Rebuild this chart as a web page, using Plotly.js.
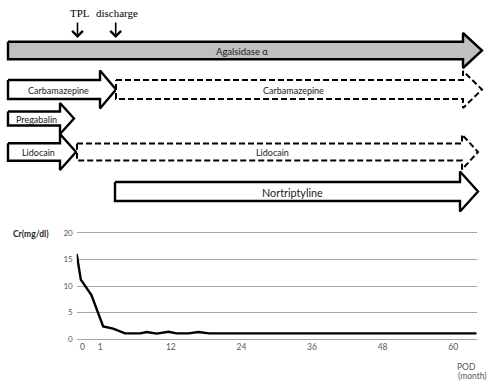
<!DOCTYPE html>
<html>
<head>
<meta charset="utf-8">
<script src="https://cdn.plot.ly/plotly-3.0.1.min.js"></script>
<style>html,body{margin:0;padding:0;background:#fff;}#chart{width:500px;height:389px;}</style>
</head>
<body>
<div id="chart"></div>
<script>
// ---- Treatment timeline (schematic positions along the timeline) ----
const drugNames   = ['Agalsidase α','Carbamazepine','Carbamazepine','Pregabalin','Lidocain','Lidocain','Nortriptyline'];
const drugStart   = [8, 8, 116, 8, 8, 77, 115];
const drugEnd     = [482, 116, 482, 74, 76, 478, 478];
const drugRow     = [0, 1, 1, 2, 3, 3, 4];
const drugDashed  = [false, false, true, false, false, true, false];
const eventNames  = ['TPL', 'discharge'];
const eventPos    = [77.5, 115.7];

// ---- Serum creatinine ----
const crX = [0, 0.7, 2.5, 4.5, 6.2, 8.2, 10.8, 11.9, 13.6, 15.6, 17, 19, 20.7, 22.5, 25, 28, 34, 40, 46, 52, 58, 64, 68];
const crY = [16, 11.2, 8.3, 2.4, 2.0, 1.1, 1.1, 1.35, 1.05, 1.4, 1.1, 1.1, 1.35, 1.1, 1.1, 1.1, 1.1, 1.1, 1.1, 1.1, 1.1, 1.1, 1.1];
const xTickVals = [1, 4, 16, 28, 40, 52, 64];
const xTickText = ['0', '1', '12', '24', '36', '48', '60'];
const yTickVals = [0, 5, 10, 15, 20];

// ---- styles ----
const rowCenter = [50.5, 89.5, 118.5, 152, 191.5];
const shaftHalf = [8.8, 9.5, 9.5, 7, 8.7, 8.6, 9.5];
const headHalf  = [17.5, 19, 18.5, 15.5, 18, 17.5, 20];
const headLen   = [19, 16, 19, 14, 16, 16, 18];
const fills     = ['#c0c0c0', '#ffffff', '#ffffff', '#ffffff', '#ffffff', '#ffffff', '#ffffff'];
const labelX    = [242, 58, 293.5, 36.5, 38.3, 272.5, 292];
const labelSize = [9.5, 9, 9, 9, 9, 9, 10.8];
const labelFont = 'Lato, "Open Sans", sans-serif';
const serifFont = '"Liberation Serif", "DejaVu Serif", serif';

const traces = [];
drugNames.forEach((name, i) => {
  const yc = rowCenter[drugRow[i]];
  const x0 = drugStart[i], xt = drugEnd[i], xb = xt - headLen[i];
  const sh = shaftHalf[i], hh = headHalf[i];
  traces.push({
    type: 'scatter', mode: 'lines', xaxis: 'x2', yaxis: 'y2',
    x: [x0, xb, xb, xt, xb, xb, x0, x0],
    y: [yc - sh, yc - sh, yc - hh, yc, yc + hh, yc + sh, yc + sh, yc - sh],
    fill: 'toself', fillcolor: fills[i],
    line: {color: '#000', width: drugDashed[i] ? 2 : 2.4, dash: drugDashed[i] ? '6px,3px' : 'solid'},
    hoverinfo: 'skip', showlegend: false
  });
});

traces.push({
  type: 'scatter', mode: 'lines', x: crX, y: crY,
  line: {color: '#000', width: 2.4}, showlegend: false, hoverinfo: 'skip', cliponaxis: false
});

const annotations = [];
drugNames.forEach((name, i) => {
  annotations.push({
    xref: 'x2', yref: 'y2', x: labelX[i], y: rowCenter[drugRow[i]] + 0.5,
    text: name, showarrow: false,
    font: {family: labelFont, size: labelSize[i], color: '#1a1a1a'}
  });
});
eventNames.forEach((name, i) => {
  annotations.push({
    xref: 'x2', yref: 'y2', x: eventPos[i], y: 38, ax: eventPos[i], ay: 21,
    axref: 'x2', ayref: 'y2', text: '', showarrow: true,
    arrowhead: 4, arrowsize: 1.3, arrowwidth: 1.6, arrowcolor: '#000', standoff: 0, startstandoff: 0
  });
});
annotations.push({xref: 'x2', yref: 'y2', x: 80, y: 13, text: 'TPL', showarrow: false,
  font: {family: serifFont, size: 11, color: '#000'}});
annotations.push({xref: 'x2', yref: 'y2', x: 117, y: 13, text: 'discharge', showarrow: false,
  font: {family: serifFont, size: 11, color: '#000'}});
annotations.push({xref: 'paper', yref: 'paper', x: 11 / 500, y: 1 - 234 / 389, xanchor: 'left', yanchor: 'middle',
  text: '<b>Cr(mg/dl)</b>', showarrow: false, font: {family: labelFont, size: 8.5, color: '#262626'}});
annotations.push({xref: 'paper', yref: 'paper', x: 455 / 500, y: 1 - 366.5 / 389, xanchor: 'left', yanchor: 'middle',
  text: 'POD', showarrow: false, font: {family: labelFont, size: 8.5, color: '#595959'}});
annotations.push({xref: 'paper', yref: 'paper', x: 456 / 500, y: 1 - 376 / 389, xanchor: 'left', yanchor: 'middle',
  text: '(month)', showarrow: false, font: {family: labelFont, size: 8.5, color: '#595959'}});

const layout = {
  width: 500, height: 389,
  margin: {l: 0, r: 0, t: 0, b: 0},
  paper_bgcolor: '#fff', plot_bgcolor: 'rgba(0,0,0,0)',
  showlegend: false,
  xaxis: {
    domain: [76.7 / 500, 476.7 / 500], range: [0, 68], anchor: 'y',
    tickmode: 'array', tickvals: xTickVals, ticktext: xTickText,
    showgrid: false, zeroline: false, showline: false, ticks: '',
    tickfont: {family: labelFont, size: 8.5, color: '#595959'}, fixedrange: true
  },
  yaxis: {
    domain: [1 - 340.3 / 389, 1 - 231.7 / 389], range: [-0.2, 20.2], anchor: 'x',
    tickmode: 'array', tickvals: yTickVals,
    showgrid: true, gridcolor: '#a6a6a6', gridwidth: 1,
    zeroline: false, showline: false, ticks: '', ticklabelstandoff: 3,
    tickfont: {family: labelFont, size: 8, color: '#595959'}, fixedrange: true
  },
  xaxis2: {domain: [0, 1], range: [0, 500], anchor: 'y2', visible: false, fixedrange: true},
  yaxis2: {domain: [0, 1], range: [389, 0], anchor: 'x2', visible: false, fixedrange: true},
  annotations: annotations
};

Plotly.newPlot('chart', traces, layout, {staticPlot: true, displayModeBar: false});
</script>
</body>
</html>
